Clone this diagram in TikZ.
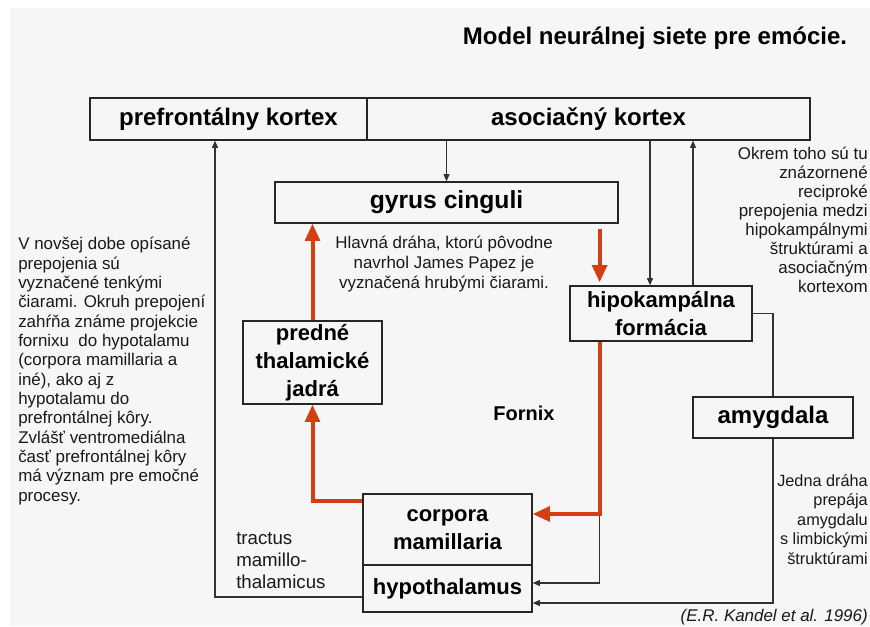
\documentclass[tikz,border=0pt]{standalone}
\usepackage{fontspec}
\setmainfont{Liberation Sans}
\usetikzlibrary{arrows.meta,calc}
\definecolor{papezred}{RGB}{212,62,18}
\definecolor{panelgray}{RGB}{246,246,246}

\begin{document}
\begin{tikzpicture}[x=0.75pt,y=0.75pt,yscale=-1,xscale=1,
    box/.style 2 args={draw=black!85,line width=0.9pt,minimum width=#1*0.75pt,minimum height=#2*0.75pt,inner sep=0pt,align=center,font=\fontsize{18}{21}\selectfont\bfseries},
    smallbox/.style={font=\fontsize{16.5}{21}\selectfont\bfseries},
    papez/.style={draw=papezred,line width=3pt,-{Triangle[length=13pt,width=11pt]}},
    thinarrow/.style={draw=black!80,line width=0.9pt,-{Triangle[length=5.5pt,width=4.5pt]}},
    thinline/.style={draw=black!80,line width=0.9pt},
    note/.style={inner sep=0pt,text=black!90,font=\fontsize{12.7}{14.5}\selectfont}]
\useasboundingbox (0,0) rectangle (870,626);
\clip (0,0) rectangle (870,626);
%Shape: Rectangle (panel)
\fill[panelgray] (10,8) rectangle (870,626);

% Text Node
\node[font=\fontsize{18}{22}\selectfont\bfseries] (title) at (655,38) {Model neurálnej siete pre emócie.};

%Shape: Rectangle
\node[box={277}{42}] (pfc) at (228.5,119) {prefrontálny kortex};
\node[box={443}{42}] (ak) at (588.5,119) {asociačný kortex};
\node[box={343}{41},font=\fontsize{18.5}{21}\selectfont\bfseries] (gc) at (446.5,202.5) {gyrus cinguli};
\node[box={182}{55},smallbox] (hf) at (661,313.5) {hipokampálna\\formácia};
\node[box={139}{83},smallbox] (ptj) at (312.5,362.5) {predné\\thalamické\\jadrá};
\node[box={160}{41}] (amy) at (773,417.5) {amygdala};
\node[box={169}{71},smallbox] (cm) at (447.5,529.5) {corpora\\mamillaria};
\node[box={169}{47},smallbox] (hyp) at (447.5,588.5) {hypothalamus};

% thin connections
\coordinate (hfin) at ($(hf.north)+(-11,0)$);
\coordinate (hfout) at ($(hf.north)+(32,0)$);
\coordinate (fx) at ($(cm.east)+(67,-15.5)$);
\coordinate (hypin) at ($(hyp.east)+(0,-5.5)$);
\coordinate (amyin) at ($(hyp.east)+(0,14.5)$);
\coordinate (mtt) at ($(hyp.west)+(0,8.5)$);
\coordinate (pfcin) at ($(pfc.south)+(-13.5,0)$);
\coordinate (cmout) at ($(cm.west)+(0,-28.5)$);
\draw[thinarrow] (gc.north |- ak.south) -- (gc.north);
\draw[thinarrow] (hfin |- ak.south) -- (hfin);
\draw[thinarrow] (hfout) -- (hfout |- ak.south);
\draw[thinline] (hf.east) -| (amy.north);
\draw[thinarrow] (fx) |- (hypin);
\draw[thinarrow] (amy.south) |- (amyin);
\draw[thinarrow] (mtt) -| (pfcin);

% Papez circuit
\draw[papez,shorten <=3.75pt,shorten >=2.25pt] (fx |- gc.south) -- (fx |- hf.north);
\draw[papez] (fx |- hf.south) -- (fx) -- (fx -| cm.east);
\draw[papez] (cmout) -| (ptj.south);
\draw[papez] (ptj.north) -- (ptj.north |- gc.south);

% Text Node
\node[note,align=left,anchor=north west] (leftnote) at (18,237) {V novšej dobe opísané\\prepojenia sú\\vyznačené tenkými\\čiarami. Okruh prepojení\\zahŕňa známe projekcie\\fornixu\ \ do hypotalamu\\(corpora mamillaria a\\iné), ako aj z\\hypotalamu do\\prefrontálnej kôry.\\Zvlášť ventromediálna\\časť prefrontálnej kôry\\má význam pre emočné\\procesy.};
% Text Node
\node[note,font=\fontsize{12.7}{15}\selectfont,align=center,anchor=north] (papeznote) at (444,236) {Hlavná dráha, ktorú pôvodne\\navrhol James Papez je\\vyznačená hrubými čiarami.};
% Text Node
\node[note,font=\fontsize{12.7}{14.25}\selectfont,align=right,anchor=north east] (recnote) at (868,147) {Okrem toho sú tu\\znázornené\\reciproké\\prepojenia medzi\\hipokampálnymi\\štruktúrami a\\asociačným\\kortexom};
% Text Node
\node[note,font=\fontsize{12.2}{14.6}\selectfont,align=right,anchor=north east] (amynote) at (868,474) {Jedna dráha\\prepája\\amygdalu\\s limbickými\\štruktúrami};
% Text Node
\node[note,font=\fontsize{14}{16.5}\selectfont,align=left,anchor=north west] (mttnote) at (236,532) {tractus\\mamillo-\\thalamicus};
% Text Node
\node[font=\fontsize{15}{18}\selectfont\bfseries] (fornix) at (524,413) {Fornix};
% Text Node
\node[note,font=\fontsize{12.7}{14.5}\selectfont\itshape,anchor=east] (source) at (868,617) {(E.R. Kandel et al. 1996)};
\end{tikzpicture}
\end{document}
